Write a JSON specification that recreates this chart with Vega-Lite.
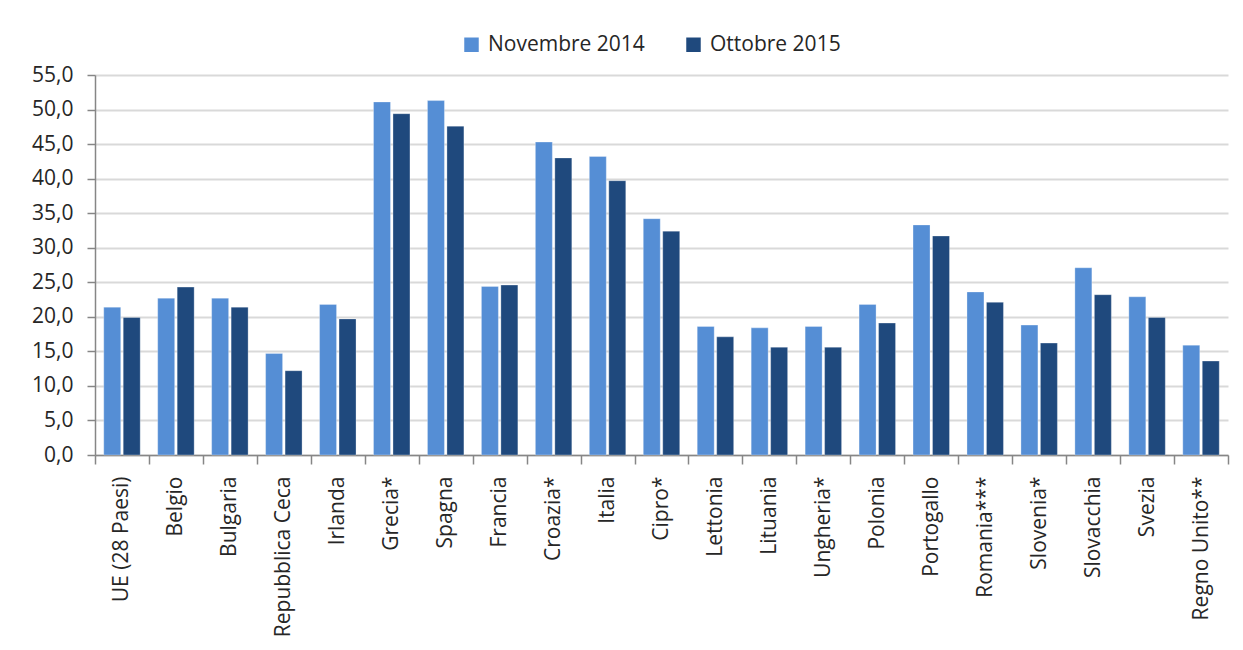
{
  "$schema": "https://vega.github.io/schema/vega-lite/v6.json",
  "autosize": {"type": "none"},
  "width": 1133,
  "height": 380,
  "padding": {"left": 95, "top": 75, "right": 15, "bottom": 195},
  "background": "white",
  "config": {
    "font": "Open Sans",
    "view": {"stroke": null},
    "axis": {"labelFont": "Open Sans", "labelFontSize": 21, "labelColor": "#262626", "domainColor": "#868686", "tickColor": "#868686", "gridColor": "#D9D9D9", "gridWidth": 2, "domainWidth": 1.5, "tickWidth": 1.5}
  },
  "data": {"values": [
    {"paese": "UE (28 Paesi)", "periodo": "Novembre 2014", "valore": 21.4},
    {"paese": "UE (28 Paesi)", "periodo": "Ottobre 2015", "valore": 19.9},
    {"paese": "Belgio", "periodo": "Novembre 2014", "valore": 22.7},
    {"paese": "Belgio", "periodo": "Ottobre 2015", "valore": 24.3},
    {"paese": "Bulgaria", "periodo": "Novembre 2014", "valore": 22.7},
    {"paese": "Bulgaria", "periodo": "Ottobre 2015", "valore": 21.4},
    {"paese": "Repubblica Ceca", "periodo": "Novembre 2014", "valore": 14.7},
    {"paese": "Repubblica Ceca", "periodo": "Ottobre 2015", "valore": 12.2},
    {"paese": "Irlanda", "periodo": "Novembre 2014", "valore": 21.8},
    {"paese": "Irlanda", "periodo": "Ottobre 2015", "valore": 19.7},
    {"paese": "Grecia*", "periodo": "Novembre 2014", "valore": 51.1},
    {"paese": "Grecia*", "periodo": "Ottobre 2015", "valore": 49.4},
    {"paese": "Spagna", "periodo": "Novembre 2014", "valore": 51.3},
    {"paese": "Spagna", "periodo": "Ottobre 2015", "valore": 47.6},
    {"paese": "Francia", "periodo": "Novembre 2014", "valore": 24.4},
    {"paese": "Francia", "periodo": "Ottobre 2015", "valore": 24.6},
    {"paese": "Croazia*", "periodo": "Novembre 2014", "valore": 45.3},
    {"paese": "Croazia*", "periodo": "Ottobre 2015", "valore": 43.0},
    {"paese": "Italia", "periodo": "Novembre 2014", "valore": 43.2},
    {"paese": "Italia", "periodo": "Ottobre 2015", "valore": 39.7},
    {"paese": "Cipro*", "periodo": "Novembre 2014", "valore": 34.2},
    {"paese": "Cipro*", "periodo": "Ottobre 2015", "valore": 32.4},
    {"paese": "Lettonia", "periodo": "Novembre 2014", "valore": 18.6},
    {"paese": "Lettonia", "periodo": "Ottobre 2015", "valore": 17.1},
    {"paese": "Lituania", "periodo": "Novembre 2014", "valore": 18.4},
    {"paese": "Lituania", "periodo": "Ottobre 2015", "valore": 15.6},
    {"paese": "Ungheria*", "periodo": "Novembre 2014", "valore": 18.6},
    {"paese": "Ungheria*", "periodo": "Ottobre 2015", "valore": 15.6},
    {"paese": "Polonia", "periodo": "Novembre 2014", "valore": 21.8},
    {"paese": "Polonia", "periodo": "Ottobre 2015", "valore": 19.1},
    {"paese": "Portogallo", "periodo": "Novembre 2014", "valore": 33.3},
    {"paese": "Portogallo", "periodo": "Ottobre 2015", "valore": 31.7},
    {"paese": "Romania***", "periodo": "Novembre 2014", "valore": 23.6},
    {"paese": "Romania***", "periodo": "Ottobre 2015", "valore": 22.1},
    {"paese": "Slovenia*", "periodo": "Novembre 2014", "valore": 18.8},
    {"paese": "Slovenia*", "periodo": "Ottobre 2015", "valore": 16.2},
    {"paese": "Slovacchia", "periodo": "Novembre 2014", "valore": 27.1},
    {"paese": "Slovacchia", "periodo": "Ottobre 2015", "valore": 23.2},
    {"paese": "Svezia", "periodo": "Novembre 2014", "valore": 22.9},
    {"paese": "Svezia", "periodo": "Ottobre 2015", "valore": 19.9},
    {"paese": "Regno Unito**", "periodo": "Novembre 2014", "valore": 15.9},
    {"paese": "Regno Unito**", "periodo": "Ottobre 2015", "valore": 13.6}
  ]},
  "mark": {"type": "bar", "stroke": "white", "strokeWidth": 0.6, "strokeOpacity": 0.5},
  "encoding": {
    "x": {
      "field": "paese", "type": "nominal", "sort": null, "title": null,
      "scale": {"paddingInner": 0, "paddingOuter": 0},
      "axis": {"labelAngle": -90, "tickBand": "extent", "tickSize": 9, "labelPadding": 12, "labelFontSize": 21, "grid": false, "labelBaseline": "middle", "labelAlign": "right"}
    },
    "xOffset": {
      "field": "periodo", "type": "nominal",
      "scale": {"paddingInner": 0.128, "paddingOuter": 0.449}
    },
    "y": {
      "field": "valore", "type": "quantitative", "title": null,
      "scale": {"domain": [0, 55], "nice": false},
      "axis": {"values": [0, 5, 10, 15, 20, 25, 30, 35, 40, 45, 50, 55], "labelExpr": "replace(format(datum.value, '.1f'), '.', ',')", "tickSize": 8, "labelPadding": 14, "grid": true, "domain": true}
    },
    "color": {
      "field": "periodo", "type": "nominal", "title": null,
      "scale": {"domain": ["Novembre 2014", "Ottobre 2015"], "range": ["#558ED5", "#1F497D"]},
      "legend": {"orient": "none", "legendX": 366, "legendY": -41, "direction": "horizontal", "symbolType": "square", "symbolSize": 210, "symbolStrokeWidth": 0, "labelFontSize": 21, "labelColor": "#262626", "labelFont": "Open Sans", "columnPadding": 38, "labelOffset": 6, "padding": 0}
    }
  }
}
